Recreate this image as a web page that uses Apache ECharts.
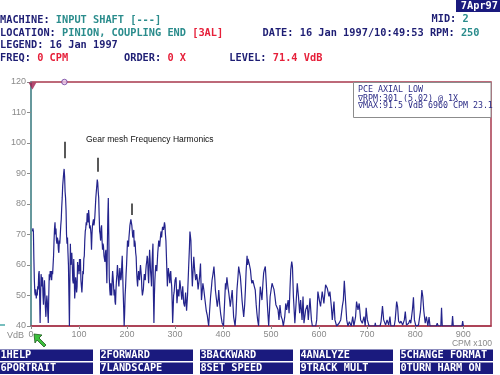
<!DOCTYPE html>
<html><head><meta charset="utf-8">
<script src="https://cdn.jsdelivr.net/npm/echarts@6/dist/echarts.min.js"></script>
<style>html,body{margin:0;padding:0;background:#fff;overflow:hidden}#c{width:500px;height:375px}</style>
</head><body><div id="c"></div>
<script>
// ---- axis ticks ----
const xTickValues = [0,100,200,300,400,500,600,700,800,900];
const yMin = 40, yMax = 120, yStep = 10;
const xMax = 958;

// ---- spectrum (CPM x100, VdB) ----
const specA = [[3,71],[4,72],[5,71],[6,62],[7,55],[8,51],[9,50],[10,52],[11,49],[12,51],[13,50],[14,53],[15,52],[16,57],[17,58],[18,50],[19,41],[20,50],[21,57],[22,55],[23,53],[24,56],[25,50],[26,47],[27,52],[28,55],[29,51],[30,46],[31,43],[32,47],[33,50],[34,48],[35,44],[36,41],[37,50],[38,57],[39,55],[40,58],[41,56],[42,58],[43,55],[44,58],[45,57],[46,60],[47,63],[48,68],[49,72],[50,74],[51,70],[52,72],[53,68],[54,67],[55,69],[56,68],[57,65],[58,64],[59,68],[60,67],[61,70],[62,73],[63,75],[64,79],[65,82],[66,86],[67,88],[68,90],[69,91.5],[70,89],[71,84],[72,82],[73,78],[74,70],[75,67],[76,69],[77,64],[78,60],[79,50],[80,40],[81,55],[82,67],[83,60],[84,62],[85,64],[86,60],[87,55],[88,54],[89,62],[90,57],[91,49],[92,52],[93,56],[94,54],[95,51],[96,53],[97,61],[98,58],[99,60],[100,57]];
const specB = [[101,62],[102,58],[103,62],[104,55],[105,53],[106,51],[107,54],[108,58],[109,57],[110,62],[111,63],[112,68],[113,71],[114,72],[115,74],[116,73],[117,77],[118,75],[119,74],[120,78],[121,76],[122,72],[123,73],[124,72],[125,70],[126,65],[127,70],[128,73],[129,74],[130,75],[131,73],[132,74],[133,76],[134,79],[135,82],[136,84],[137,86],[138,88],[139,87],[140,84],[141,82],[142,76],[143,71],[144,70],[145,68],[146,72],[147,73],[148,68],[149,65],[150,67],[151,66],[152,63],[153,62],[154,61],[155,64],[156,65],[157,60],[158,54],[159,66],[160,76],[161,82],[162,70],[163,56],[164,52],[165,50],[166,54],[167,51],[168,50],[169,55],[170,58],[171,56],[172,53],[173,50],[174,52],[175,48],[176,47],[177,52],[178,55],[179,57],[180,60],[181,58],[182,55],[183,53],[184,56],[185,59],[186,57],[187,55],[188,56],[189,60],[190,63],[191,57],[192,51],[193,46],[194,40],[195,44],[196,50],[197,53],[198,57],[199,60]];
const specC = [[200,64],[201,68],[202,67],[203,66],[204,69],[205,71],[206,73],[207,74],[208,75],[209,74],[210,73],[211,71],[212,69],[213,70],[214,71.5],[215,66],[216,68],[217,67],[218,64],[219,62.7],[220,58],[221,55],[222,53],[223,56],[224,58],[225,56],[226,55],[227,58],[228,60],[229,58],[230,56],[231,52],[232,50],[233,51],[234,52],[235,55],[236,57],[237,56],[238,55],[239,58],[240,60],[241,61],[242,63],[243,62],[244,57],[245,54],[246,60],[247,65],[248,62],[249,58],[250,56],[251,53],[252,60],[253,64],[254,67],[255,50],[256,41],[257,50],[258,55],[259,58],[260,60],[261,59],[262,58],[263,61],[264,64],[265,66],[266,68],[267,67],[268,66],[269,68],[270,70],[271,71],[272,69],[273,71],[274,72.5],[275,72],[276,71.5],[277,72],[278,74],[279,73],[280,70],[281,68],[282,63],[283,58],[284,53],[285,56],[286,59],[287,59.5],[288,56],[289,54],[290,57],[291,58],[292,55],[293,53],[294,48],[295,41],[296,45],[297,50],[298,51],[299,53]];
const specD = [[300,55],[302,56],[304,47.5],[306,52],[308,49.7],[310,55],[312,52],[314,48.6],[316,53],[318,47.5],[320,46.4],[322,51],[324,45],[326,50],[328,58],[330,66],[331,71],[333,68],[334,62],[336,53],[339,62.7],[341,58],[343,55],[345,57],[346,56],[348,52],[350,52],[351,56],[353,60.5],[355,48.5],[358,54],[360,51.8],[362,49],[364,48.5],[365,45],[367,43.6],[370,40],[372,45],[374,49.6],[376,53],[377,55],[379,57],[381,59.5],[383,55],[384,51.8],[386,49],[388,46.3],[390,49],[391,51.8],[393,47],[395,44],[398,41]];
const specE = [[401,40],[403,47],[405,54],[406,52],[408,56],[410,53],[412,50.7],[414,48],[415,46.3],[417,49],[419,51.8],[421,46],[422,43],[425,40],[427,44],[429,52],[431,56],[432.5,59.5],[434,58],[436,56.2],[438,52],[439.5,48.5],[441,46],[443,43],[445,47],[446.5,51.8],[448,58],[450,63],[451,60],[452,62],[454,61.7],[455,60],[457,58.4],[459,55],[460,54],[462,55],[464,55.1],[465,53],[467,51.8],[469,47],[470.5,44.2],[472,42],[474,40],[476,48],[477.5,52.9],[479,51],[481,48.5],[483,54],[484.5,57.3],[486,58.5],[488,59.5],[490,54],[491,50.7],[493,45],[495,40],[497,46],[498,49.6],[500,51.8]];
const specF = [[502,54],[504,53],[506,52],[508,49.7],[510,47],[512,47.4],[514.5,45.3],[516.5,42],[518.5,46.9],[521,43.1],[523.5,42],[525.5,40],[528.5,43.1],[530.5,47.4],[532.5,45.3],[535.5,48.5],[537.5,44.2],[539.5,52.9],[541,58.4],[543,61.1],[544.5,59.5],[546.5,49.7],[549.5,40.9],[552,47.4],[554.5,54],[557,49.7],[559.5,44.2],[561.5,48.5],[564.5,42],[566.5,49.7],[568.5,40.9],[572,45.3],[575.5,46.9],[577.5,42],[581,49.1],[584,42],[586,40],[593,40],[595,42],[597.5,51.3],[600.5,48.5],[603,46.4],[606.5,51.3],[610,47.4],[613.5,53.5],[617,52.4],[620.5,49.7],[622.5,51.3],[625.5,46.4],[627.5,42],[631,48],[633,42],[636.5,40],[641.5,40.9],[645,42],[648.5,46.6]];
const specG = [[650.5,48.5],[652.5,54.8],[654.5,49.7],[657.5,42],[660,40],[663,41.4],[667,40],[670,43.1],[672.5,40],[676,43.1],[678,48],[681,45.3],[683.5,47.4],[686.5,42],[690,40.9],[693.5,43.1],[696,40],[698,46],[700.5,42],[704,40],[716,40],[717,41],[718,40],[727,40],[729,41.4],[732,46.5],[734.5,42],[738.5,40.3],[741.5,42],[745,40.3],[747.5,43.1],[749.5,40],[756.5,40],[758.5,42],[761.5,48],[763.5,46.3],[765.5,41.6],[768,40.9],[770.5,41.6],[774,40.3],[777.5,42],[779.5,44.7],[782,40.3],[786.5,40.9],[789,42],[791,40.9],[794.5,45.5],[796.5,49.4],[798.5,42],[801.5,40],[807,40.3],[811,44.7],[814,51.8],[816,49.6],[818,45.1],[821,40.9],[823.5,43.1],[826.5,40],[829,42.9],[831,40],[844,40],[846,40.9],[848,40],[853.5,40],[855,46],[856.5,40],[876.5,40],[878,43.3],[879.5,40],[897.5,40],[899,41.6],[900.5,40]];

// ---- markers / annotations ----
const rpmMarker = [[3, 118.7]];
const maxMarker = [[69.6, 120]];
const harmonicX = [69.6, 139.2, 208.8];
const harmonicTop = [100.4, 95.2, 80.2];
const harmonicBottom = [95, 90.6, 76.4];

// ---- texts ----
const headerLeft = [
  [['MACHINE: ','n'],['INPUT SHAFT [---]','t']],
  [['LOCATION: ','n'],['PINION, COUPLING END ','t'],['[3AL]','r']],
  [['LEGEND: 16 Jan 1997','n']],
  [['FREQ: ','n'],['0 CPM','r'],['         ORDER: ','n'],['0 X','r'],['       LEVEL: ','n'],['71.4 VdB','r']]
];
const headerRight = [
  [['MID: ','n'],['2','t']],
  [['DATE: 16 Jan 1997/10:49:53 ','n'],['RPM: ','n'],['250','t']]
];
const legendLines = ['PCE AXIAL LOW', '\u2207RPM:301 (5.02) @ 1X', '\u2207MAX:91.5 VdB 6960 CPM 23.1'];
const buttonsRow1 = [['1','HELP'],['2','FORWARD'],['3','BACKWARD'],['4','ANALYZE'],['5','CHANGE FORMAT']];
const buttonsRow2 = [['6','PORTRAIT'],['7','LANDSCAPE'],['8','SET SPEED'],['9','TRACK MULT'],['0','TURN HARM ON']];

const NAVY = '#1e1e74', TEAL = '#2a8c8c', RED = '#e6203a', BTN = '#1a1a7e', GRAY = '#8a8a8a';
const MONO = 'DejaVu Sans Mono';

const spectrum = [].concat(specA, specB, specC, specD, specE, specF, specG);

const chart = echarts.init(document.getElementById('c'), null, {renderer: 'canvas'});

function richLine(parts) {
  return parts.map(p => '{' + p[1] + '|' + p[0] + '}').join('');
}
const richStyles = {
  n: {fill: NAVY, font: 'bold 10.3px ' + MONO},
  t: {fill: TEAL, font: 'bold 10.3px ' + MONO},
  r: {fill: RED, font: 'bold 10.3px ' + MONO}
};

const graphics = [];
const leftYs = [20, 33, 45.5, 58];
headerLeft.forEach((ln, i) => {
  graphics.push({type: 'text', x: 0, y: leftYs[i], z: 10,
    style: {text: richLine(ln), rich: richStyles, font: 'bold 10.3px ' + MONO, verticalAlign: 'middle'}});
});
const rightYs = [19.5, 33];
const rightXs = [431.5, 262.5];
headerRight.forEach((ln, i) => {
  graphics.push({type: 'text', x: rightXs[i], y: rightYs[i], z: 10,
    style: {text: richLine(ln), rich: richStyles, font: 'bold 10.3px ' + MONO, verticalAlign: 'middle'}});
});
// date box top right
graphics.push({type: 'rect', shape: {x: 456, y: 0, width: 44, height: 12}, style: {fill: BTN}, z: 10});
graphics.push({type: 'text', x: 498, y: 6.5, z: 11, style: {text: '7Apr97', fill: '#fff', font: 'bold 10.3px ' + MONO, align: 'right', verticalAlign: 'middle'}});

// legend box
graphics.push({type: 'rect', shape: {x: 353.5, y: 82.5, width: 137.5, height: 35}, style: {fill: '#fff', stroke: '#8c8c8c', lineWidth: 1}, z: 20});
const legYs = [89.5, 98.5, 105.5];
legendLines.forEach((t, i) => {
  graphics.push({type: 'text', x: 358, y: legYs[i], z: 21, style: {text: t, fill: '#2c2c86', font: '8.3px ' + MONO, verticalAlign: 'middle'}});
});

// annotation text
graphics.push({type: 'text', x: 86, y: 140, z: 20, style: {text: 'Gear mesh Frequency Harmonics', fill: '#111', font: '8.5px "Liberation Sans"', verticalAlign: 'middle'}});

// axis extra labels
graphics.push({type: 'text', x: 7, y: 335.5, z: 20, style: {text: 'VdB', fill: GRAY, font: '9px "Liberation Sans"', verticalAlign: 'middle'}});
graphics.push({type: 'text', x: 492, y: 344, z: 20, style: {text: 'CPM x100', fill: GRAY, font: '8.6px "Liberation Sans"', align: 'right', verticalAlign: 'middle'}});
graphics.push({type: 'line', shape: {x1: 0, y1: 325, x2: 5, y2: 325}, style: {stroke: '#4aa8a8', lineWidth: 1.5}, z: 20});

// cursor arrow
graphics.push({type: 'polygon', z: 30, shape: {points: [[34,334],[42,335],[39,338],[46,345],[44,347],[37,340],[35,343]]}, style: {fill: '#3cc03c', stroke: '#1e5a1e', lineWidth: 0.8}});

// bottom buttons
function addButtons(row, y) {
  row.forEach((b, i) => {
    const x0 = i * 100;
    graphics.push({type: 'rect', shape: {x: x0, y: y, width: 93, height: 11.5}, style: {fill: BTN}, z: 10});
    graphics.push({type: 'text', x: x0 + 0.5, y: y + 6, z: 11, style: {text: b[0], fill: '#fff', font: 'bold 10.3px ' + MONO, verticalAlign: 'middle'}});
    graphics.push({type: 'text', x: x0 + 6.5, y: y + 6, z: 11, style: {text: b[1], fill: '#fff', font: 'bold 10.3px ' + MONO, verticalAlign: 'middle'}});
  });
}
addButtons(buttonsRow1, 349.5);
addButtons(buttonsRow2, 362.5);

const harmLines = harmonicX.map((x, i) => [{coord: [x, harmonicTop[i]]}, {coord: [x, harmonicBottom[i]]}]);

chart.setOption({
  animation: false,
  backgroundColor: '#fff',
  grid: {left: 31, right: 9, top: 82, bottom: 49, show: true, borderColor: '#a8384e', borderWidth: 1.5, backgroundColor: 'transparent'},
  xAxis: {
    type: 'value', min: 0, max: xMax, interval: 100,
    axisLine: {show: true, lineStyle: {color: '#a8384e', width: 1.5}},
    axisTick: {show: true, length: 3, customValues: xTickValues, lineStyle: {color: GRAY}},
    axisLabel: {show: true, customValues: xTickValues, color: GRAY, fontSize: 9, fontFamily: 'Liberation Sans', margin: 4},
    splitLine: {show: false}
  },
  yAxis: {
    type: 'value', min: yMin, max: yMax, interval: yStep,
    axisLine: {show: true, lineStyle: {color: '#4aa8a8', width: 1.5}},
    axisTick: {show: true, length: 4, lineStyle: {color: GRAY}},
    axisLabel: {color: GRAY, fontSize: 9, fontFamily: 'Liberation Sans', margin: 5},
    splitLine: {show: false}
  },
  series: [
    {type: 'line', data: spectrum, showSymbol: false, symbol: 'none', clip: true,
     lineStyle: {color: '#24248c', width: 1.2}, z: 3,
     markLine: {silent: true, symbol: ['none', 'none'], label: {show: false},
       lineStyle: {color: '#222', width: 1.5, type: 'solid'}, data: harmLines}},
    {type: 'scatter', data: rpmMarker, symbol: 'triangle', symbolRotate: 180, symbolSize: [8, 7], clip: false,
     itemStyle: {color: '#a01c4c'}, z: 5},
    {type: 'scatter', data: maxMarker, symbol: 'circle', symbolSize: 5.5, clip: false,
     itemStyle: {color: '#e8c8e8', borderColor: '#6a3a9a', borderWidth: 1}, z: 5}
  ],
  graphic: graphics
});
</script>
</body></html>
